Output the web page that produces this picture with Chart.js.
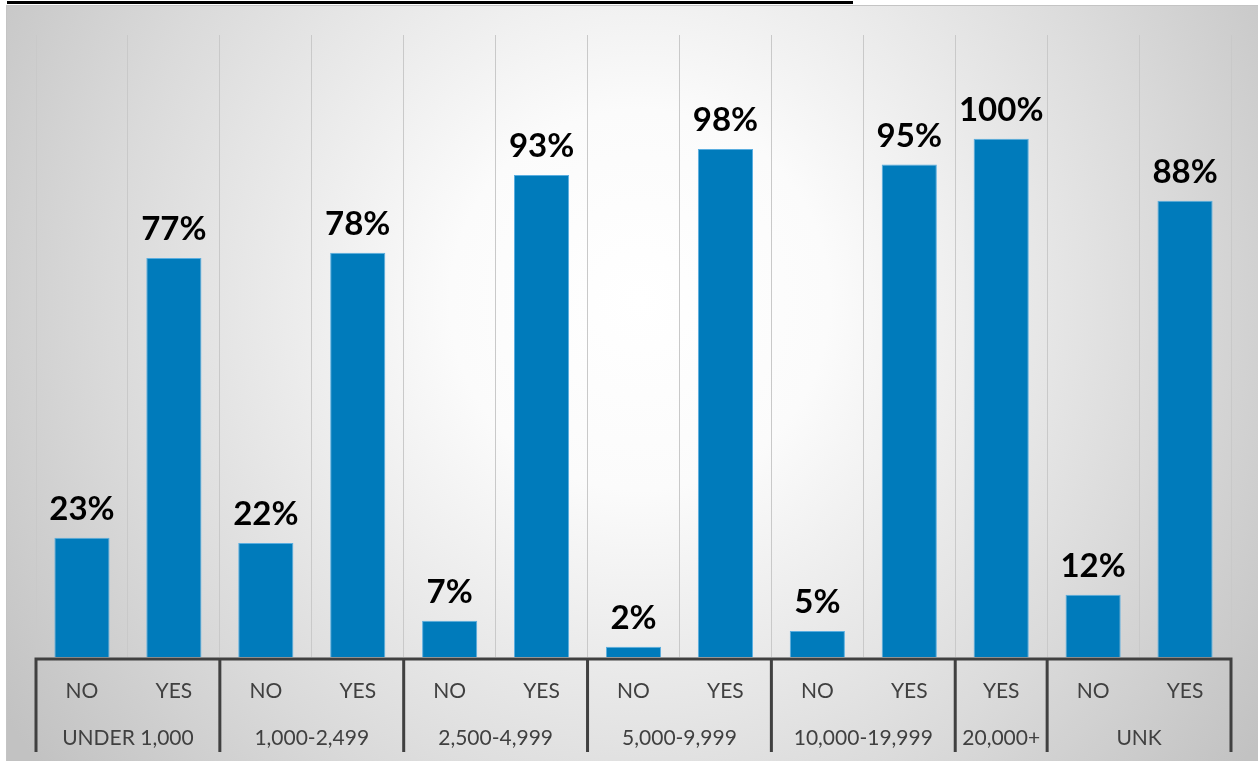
<!DOCTYPE html>
<html>
<head>
<meta charset="utf-8">
<script src="https://cdn.jsdelivr.net/npm/chart.js@4/dist/chart.umd.min.js"></script>
<style>
  body { margin: 0; background: #fff; }
  canvas { display: block; }
</style>
</head>
<body>
<canvas id="chart" width="1258" height="761"></canvas>
<script>
  // answers per bar, grouped by population bracket
  const tickLabels = ["NO", "YES", "NO", "YES", "NO", "YES", "NO", "YES", "NO", "YES", "YES", "NO", "YES"];
  const values = [23, 77, 22, 78, 7, 93, 2, 98, 5, 95, 100, 12, 88];
  const groupNames = ["UNDER 1,000", "1,000-2,499", "2,500-4,999", "5,000-9,999", "10,000-19,999", "20,000+", "UNK"];
  const groupSizes = [2, 2, 2, 2, 2, 1, 2];

  const FONT = "Lato, 'Open Sans', sans-serif";
  const AXIS = "#404040";

  const background = {
    id: "background",
    beforeDraw: (chart) => {
      const { ctx, width, height } = chart;
      ctx.save();
      const g = ctx.createRadialGradient(640, 300, 0, 640, 300, 760);
      g.addColorStop(0, "#ffffff");
      g.addColorStop(0.25, "#fbfbfb");
      g.addColorStop(0.7, "#dadada");
      g.addColorStop(1, "#c2c2c2");
      ctx.fillStyle = g;
      ctx.fillRect(6, 5, width - 6, height - 5);
      ctx.strokeStyle = "#c4c4c4";
      ctx.lineWidth = 1;
      ctx.beginPath();
      ctx.moveTo(6, 5.5);
      ctx.lineTo(width, 5.5);
      ctx.moveTo(6.5, 5);
      ctx.lineTo(6.5, height);
      ctx.stroke();
      // underline of the heading above the frame
      ctx.fillStyle = "#000";
      ctx.fillRect(7, 1, 846, 3);
      ctx.restore();
    },
  };

  const categoryAxis = {
    id: "categoryAxis",
    afterDraw: (chart) => {
      const { ctx, chartArea } = chart;
      const x = chart.scales.x;
      const step = x.getPixelForValue(1) - x.getPixelForValue(0);
      const edge = (i) => x.getPixelForValue(i) - step / 2;
      const base = chartArea.bottom + 2;
      ctx.save();

      ctx.strokeStyle = AXIS;
      ctx.lineWidth = 3;
      ctx.beginPath();
      ctx.moveTo(edge(0) - 1.5, base);
      ctx.lineTo(edge(tickLabels.length) + 1.5, base);
      let idx = 0;
      const bounds = [0];
      groupSizes.forEach((n) => {
        idx += n;
        bounds.push(idx);
      });
      bounds.forEach((b) => {
        ctx.moveTo(edge(b), base);
        ctx.lineTo(edge(b), 752);
      });
      ctx.stroke();

      ctx.fillStyle = AXIS;
      ctx.textAlign = "center";
      ctx.textBaseline = "middle";
      ctx.font = `21px ${FONT}`;
      tickLabels.forEach((t, i) => ctx.fillText(t, x.getPixelForValue(i), 691));
      groupNames.forEach((name, gi) => {
        const mid = (edge(bounds[gi]) + edge(bounds[gi + 1])) / 2;
        ctx.fillText(name, mid, 738);
      });

      // value labels above each bar
      ctx.fillStyle = "#000";
      ctx.font = `bold 33px ${FONT}`;
      ctx.textBaseline = "alphabetic";
      chart.getDatasetMeta(0).data.forEach((bar, i) => {
        ctx.fillText(`${values[i]}%`, bar.x, bar.y - 18);
      });
      ctx.restore();
    },
  };

  const ctx = document.getElementById("chart").getContext("2d");

  new Chart(ctx, {
    type: "bar",
    data: {
      labels: tickLabels,
      datasets: [
        {
          data: values,
          backgroundColor: "#007bbb",
          borderColor: "#5aaee0",
          borderWidth: 1,
          categoryPercentage: 1,
          barPercentage: 0.6,
        },
      ],
    },
    options: {
      responsive: false,
      animation: false,
      layout: { padding: { left: 36, right: 27, top: 35, bottom: 104 } },
      plugins: { legend: { display: false }, tooltip: { enabled: false } },
      scales: {
        x: {
          offset: true,
          ticks: { display: false },
          grid: { offset: true, color: "#c9c9c9", lineWidth: 1, drawTicks: false },
          border: { display: false },
        },
        y: {
          display: false,
          min: 0,
          max: 120,
        },
      },
    },
    plugins: [background, categoryAxis],
  });
</script>
</body>
</html>
